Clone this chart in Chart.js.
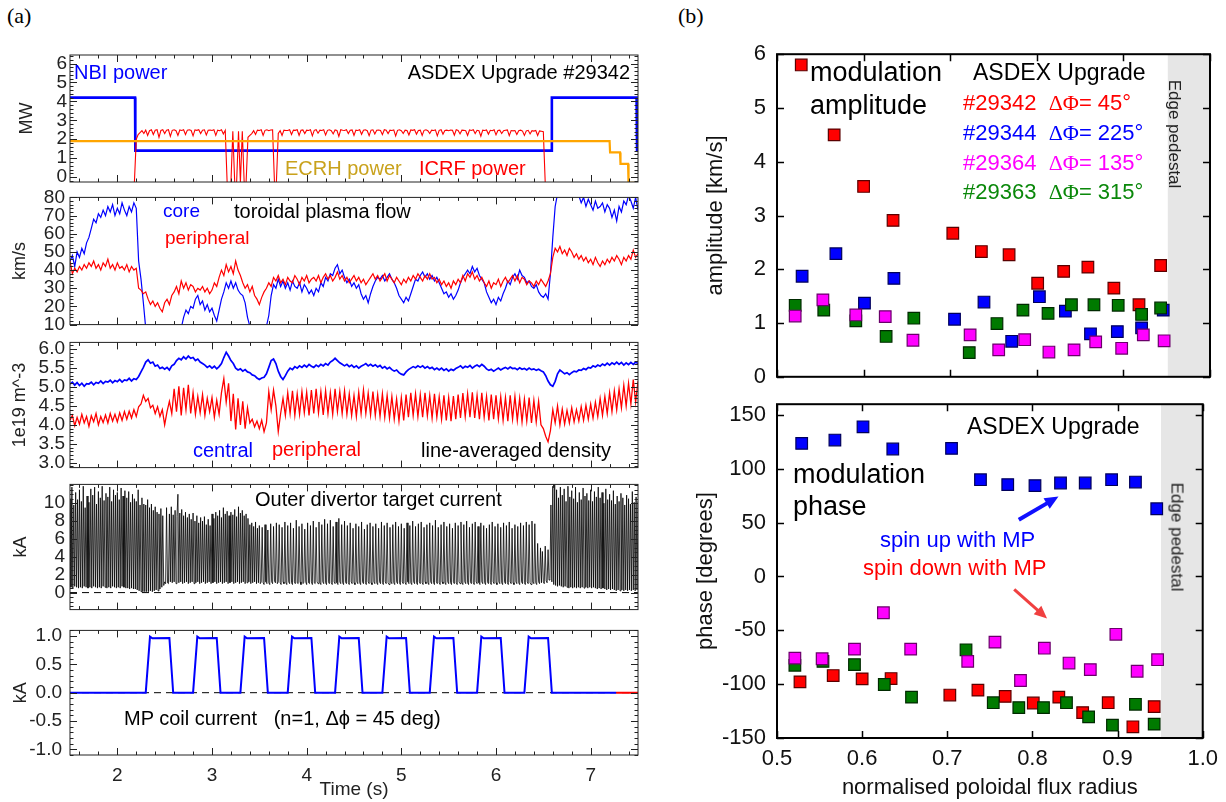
<!DOCTYPE html>
<html><head><meta charset="utf-8">
<script src="https://cdn.jsdelivr.net/npm/chart.js@4.4.1/dist/chart.umd.min.js"></script>
<style>
html,body{margin:0;padding:0;background:#fff;}
#wrap{position:relative;width:1226px;height:802px;overflow:hidden;background:#fff;font-family:'Liberation Sans',Arial,sans-serif;}
canvas{position:absolute;}
.t{position:absolute;white-space:pre;line-height:1;color:#000;}
.rot{transform:translate(-50%,-50%) rotate(90deg);}
.g{font-family:'Liberation Serif','Times New Roman',serif;}
</style></head><body><div id="wrap">
<canvas id="p1" width="650" height="159" style="left:0;top:39px"></canvas>
<canvas id="p2" width="650" height="160" style="left:0;top:181px"></canvas>
<canvas id="p3" width="650" height="158" style="left:0;top:326px"></canvas>
<canvas id="p4" width="650" height="158" style="left:0;top:468px"></canvas>
<canvas id="p5" width="650" height="191" style="left:0;top:611px"></canvas>
<canvas id="r1" width="536" height="371" style="left:690px;top:30px"></canvas>
<canvas id="r2" width="536" height="422" style="left:690px;top:380px"></canvas>

<div class="t g" style="left:7px;top:5px;font-size:22px">(a)</div>
<div class="t g" style="left:678px;top:5px;font-size:22px">(b)</div>
<div class="t" style="left:74px;top:62px;font-size:20px;color:#0000ff">NBI power</div>
<div class="t" style="right:596px;top:62px;font-size:20px">ASDEX Upgrade #29342</div>
<div class="t" style="left:285px;top:158px;font-size:20px;color:#c9a21c">ECRH power</div>
<div class="t" style="left:419px;top:158px;font-size:20px;color:#ff0000">ICRF power</div>
<div class="t" style="left:163px;top:201px;font-size:19px;color:#0000ff">core</div>
<div class="t" style="left:234px;top:201px;font-size:20px">toroidal plasma flow</div>
<div class="t" style="left:165px;top:228px;font-size:19px;color:#ff0000">peripheral</div>
<div class="t" style="left:193px;top:440px;font-size:20px;color:#0000ff">central</div>
<div class="t" style="left:272px;top:439px;font-size:20px;color:#ff0000">peripheral</div>
<div class="t" style="left:421px;top:440px;font-size:20px">line-averaged density</div>
<div class="t" style="left:255px;top:489px;font-size:20px">Outer divertor target current</div>
<div class="t" style="left:124px;top:708px;font-size:20px">MP coil current   (n=1, Δϕ = 45 deg)</div>

<div class="t" style="left:810px;top:59px;font-size:27px">modulation</div>
<div class="t" style="left:810px;top:92px;font-size:27px">amplitude</div>
<div class="t" style="left:973px;top:61px;font-size:23px">ASDEX Upgrade</div>
<div class="t" style="left:963px;top:92px;font-size:22px;color:#ff0000">#29342  <span class="g">ΔΦ</span>= 45°</div>
<div class="t" style="left:963px;top:122px;font-size:22px;color:#0000ff">#29344  <span class="g">ΔΦ</span>= 225°</div>
<div class="t" style="left:963px;top:152px;font-size:22px;color:#ff00ff">#29364  <span class="g">ΔΦ</span>= 135°</div>
<div class="t" style="left:963px;top:181px;font-size:22px;color:#0a880a">#29363  <span class="g">ΔΦ</span>= 315°</div>
<div class="t rot" style="left:1174px;top:134px;font-size:17px;color:#222">Edge pedestal</div>
<div class="t rot" style="left:1177px;top:537px;font-size:17px;color:#222">Edge pedestal</div>
<div class="t" style="left:967px;top:415px;font-size:23px">ASDEX Upgrade</div>
<div class="t" style="left:793px;top:461px;font-size:27px">modulation</div>
<div class="t" style="left:793px;top:493px;font-size:27px">phase</div>
<div class="t" style="left:880px;top:529px;font-size:22px;color:#0000ff">spin up with MP</div>
<div class="t" style="left:863px;top:557px;font-size:22px;color:#ff0000">spin down with MP</div>
</div>
<script>
// ---------------- DATA ----------------
const T0 = 1.5;                 // start of uniformly sampled traces (s)
const timeTicks = [2, 3, 4, 5, 6, 7];

// Panel 1: heating power (MW)
const powerTicks = [0, 1, 2, 3, 4, 5, 6];
const nbiTime  = [1.5, 2.187, 2.19, 6.585, 6.59, 7.485, 7.49, 7.5];
const nbiPower = [4.2, 4.2, 1.4, 1.4, 4.2, 4.2, 1.4, 1.4];
const ecrhTime  = [1.5, 7.2, 7.205, 7.31, 7.315, 7.395, 7.4, 7.5];
const ecrhPower = [1.9, 1.9, 1.3, 1.3, 0.7, 0.7, -0.3, -0.3];
const DT_ICRF = 0.02;
const icrfPower = [
 null,null,null,null,null, null,null,null,null,null, null,null,null,null,null,
 null,null,null,null,null, null,null,null,null,null, null,null,null,null,null,
 null,null,null,null,-0.3,
 2.0,2.25,2.35,2.45,2.3, 2.48,2.2,2.45,2.5,2.25, 2.47,2.5,2.1,2.46,2.5,
 2.3,2.48,2.5,2.15,2.47, 2.5,2.45,2.2,2.49,2.46, 2.5,2.25,2.48,2.5,2.46,
 2.18,2.49,2.47,2.5,2.3, 2.48,2.5,2.22,2.47,2.49, 2.46,2.5,2.2,2.48,2.45,
 2.5,2.28,2.47,-0.3,-0.3, -0.3,2.42,-0.3,-0.3,2.42, -0.3,2.42,-0.3,-0.3,2.1,
 2.2,2.3,2.45,2.25,2.48, 2.46,2.5,2.2,2.47,2.5, 2.45,2.49,2.5,-0.3,-0.3,
 2.3,2.45,2.2,2.48,2.46, 2.46,2.5,2.25,2.48,2.47, 2.5,2.2,2.47,2.49,2.3,
 2.48,2.46,2.5,2.18,2.47, 2.5,2.32,2.48,2.46,2.5, 2.22,2.47,2.5,2.45,2.28,
 2.49,2.46,2.15,2.5,2.47, 2.46,2.5,2.3,2.47,2.49, 2.2,2.48,2.46,2.5,2.26,
 2.47,2.5,2.45,2.19,2.48, 2.5,2.28,2.47,2.49,2.46, 2.24,2.5,2.47,2.3,2.48,
 2.46,2.49,2.17,2.47,2.5, 2.45,2.3,2.48,2.46,2.22, 2.49,2.47,2.5,2.27,2.46,
 2.48,2.2,2.47,2.5,2.45, 2.3,2.48,2.46,2.49,2.18, 2.47,2.5,2.26,2.46,2.48,
 2.45,2.49,2.47,2.21,2.5, 2.46,2.28,2.48,2.47,2.45, 2.2,2.49,2.46,2.5,2.3,
 2.47,2.45,2.16,2.48,2.46, 2.49,2.27,2.47,2.45,2.5, 2.23,2.46,2.48,2.3,2.45,
 2.47,2.49,2.19,2.46,2.44, 2.46,2.25,2.45,2.48,2.43, 2.2,2.44,2.47,2.28,2.45,
 2.43,2.46,2.2,2.44,2.42, 2.4,-0.3,null,null,null,
 null,null,null,null,null, null,null,null,null,null, null,null,null,null,null,
 null,null,null,null,null, null,null,null,null,null, null,null,null,null,null,
 null,null,null,null,null, null,null,null,null,null, null,null,null,null,null,
 null];

// Panel 2: toroidal plasma flow (km/s)
const flowTicks = [10, 20, 30, 40, 50, 60, 70, 80];
const DT_FLOW = 0.025;
const flowCore = [
 45,48,42,50, 47,52,49,55, 58,63,68,66, 71,69,73,70, 75,72,76,70,
 74,71,77,73, 70,75,72,77, 74,45,35,22, 8,4,2,1, 2,0,2,1,
 0,3,2,4, 3,5,6,8, 14,18,16,20, 19,24,26,21, 23,18,21,17,
 19,15,12,18, 24,28,33,30, 34,30,33,29, 27,26,22,14, 9,6,8,5,
 7,4,8,9, 15,26,32,30, 35,31,34,30, 33,29,34,31, 30,33,28,32,
 30,27,29,26, 30,28,33,31, 36,34,38,37, 41,43,38,40, 36,33,35,31,
 33,30,32,27, 24,26,22,27, 31,34,36,35, 37,34,36,38, 35,33,30,26,
 24,22,25,23, 27,31,35,34, 37,39,36,38, 35,37,34,36, 33,30,27,28,
 25,27,24,26, 29,33,36,38, 40,38,42,39, 41,37,35,33, 28,25,22,24,
 21,25,23,27, 30,34,32,36, 38,35,40,37, 36,33,34,31, 30,32,28,26,
 25,27,24,38, 58,75,82,84, 83,85,82,84, 84,82,85,81, 77,80,75,79,
 76,73,78,74, 75,77,72,76, 74,69,73,67, 75,72,78,76, 81,78,74,80,
 73];
const flowPeriph = [
 45,38,41,39, 42,40,43,41, 44,42,45,41, 43,40,44,42, 46,41,43,40,
 44,41,42,40, 43,39,42,40, 41,30,29,27, 28,24,21,23, 20,22,19,17,
 22,24,21,26, 28,31,27,34, 30,33,29,32, 31,28,30,29, 31,28,30,27,
 29,33,31,36, 40,37,43,39, 42,38,45,40, 37,33,30,32, 28,31,26,24,
 21,25,28,30, 33,31,36,34, 37,33,35,32, 36,34,33,37, 35,32,36,34,
 37,33,35,36, 34,37,33,36, 38,35,37,34, 36,39,35,37, 34,36,33,35,
 37,34,36,33, 35,32,34,36, 38,35,37,34, 36,38,34,37, 35,33,36,34,
 32,35,33,36, 34,37,35,38, 36,34,37,35, 38,35,36,33, 35,32,34,31,
 33,30,34,32, 35,33,37,34, 38,36,39,35, 37,34,36,33, 31,34,30,33,
 32,35,31,34, 36,33,35,37, 34,37,33,36, 35,32,34,33, 31,34,32,35,
 33,31,34,38, 47,52,50,53, 49,51,48,52, 50,47,49,46, 48,45,47,44,
 46,43,47,44, 42,45,43,46, 44,47,45,48, 46,43,47,45, 48,46,51,47,
 49];

// Panel 3: line-averaged density (1e19 m^-3)
const densTicks = [3.0, 3.5, 4.0, 4.5, 5.0, 5.5, 6.0];
const DT_DENS = 0.025;
const densCentral = [
 5.08,5.13,5.05,5.12, 5.04,5.10,5.02,5.09, 5.08,5.13,5.06,5.12, 5.10,5.16,5.09,5.15, 5.13,5.18,5.11,5.17,
 5.14,5.20,5.13,5.19, 5.17,5.23,5.16,5.22, 5.20,5.28,5.40,5.52, 5.66,5.72,5.63,5.66, 5.55,5.58,5.49,5.52,
 5.47,5.52,5.45,5.56, 5.60,5.70,5.76,5.72, 5.80,5.74,5.82,5.76, 5.78,5.70,5.74,5.66, 5.62,5.58,5.52,5.56,
 5.50,5.55,5.48,5.54, 5.62,5.78,5.92,5.82, 5.70,5.62,5.50,5.45, 5.48,5.42,5.46,5.40, 5.38,5.32,5.30,5.24,
 5.20,5.24,5.26,5.35, 5.52,5.70,5.74,5.62, 5.42,5.28,5.20,5.30, 5.42,5.50,5.46,5.54, 5.50,5.56,5.52,5.58,
 5.53,5.60,5.55,5.52, 5.58,5.54,5.60,5.56, 5.62,5.58,5.66,5.70, 5.76,5.70,5.64,5.60, 5.56,5.60,5.54,5.58,
 5.52,5.56,5.50,5.55, 5.58,5.62,5.56,5.60, 5.55,5.59,5.53,5.57, 5.50,5.54,5.48,5.52, 5.46,5.42,5.45,5.38,
 5.34,5.32,5.40,5.46, 5.50,5.54,5.51,5.56, 5.52,5.56,5.50,5.54, 5.49,5.52,5.46,5.50, 5.45,5.50,5.44,5.48,
 5.42,5.47,5.44,5.49, 5.52,5.56,5.50,5.55, 5.52,5.57,5.50,5.55, 5.58,5.54,5.60,5.55, 5.48,5.44,5.47,5.42,
 5.46,5.50,5.45,5.49, 5.52,5.48,5.53,5.49, 5.50,5.46,5.51,5.47, 5.49,5.45,5.50,5.46, 5.48,5.44,5.47,5.43,
 5.40,5.30,5.16,5.06, 5.02,5.15,5.35,5.45, 5.40,5.35,5.38,5.33, 5.38,5.42,5.40,5.45, 5.44,5.49,5.46,5.52,
 5.50,5.56,5.53,5.58, 5.55,5.61,5.57,5.63, 5.58,5.64,5.60,5.66, 5.60,5.65,5.58,5.64, 5.59,5.65,5.60,5.66,
 5.62];
const densPeriph = [
 4.12,4.25,3.98,4.20, 4.02,4.28,4.05,4.22, 3.96,4.24,4.08,4.30, 4.00,4.22,4.06,4.26, 4.05,4.30,4.10,4.28,
 4.08,4.32,4.12,4.35, 4.15,4.36,4.18,4.40, 4.22,4.48,4.55,4.78, 4.62,4.70,4.45,4.52, 4.30,4.48,4.22,4.40,
 4.00,4.35,4.62,4.30, 4.95,4.35,5.02,4.25, 4.98,4.40,5.06,4.30, 4.85,4.28,4.75,4.32, 4.80,4.25,4.70,4.35,
 4.72,4.20,4.65,4.28, 4.85,5.22,4.60,5.10, 4.10,4.82,3.88,4.70, 4.00,4.62,3.90,4.45, 4.05,4.15,3.95,4.10,
 3.90,4.12,3.82,4.05, 4.88,4.40,4.92,4.50, 3.82,4.30,4.70,4.25, 4.85,4.30,4.90,4.25, 4.82,4.28,4.88,4.32,
 4.86,4.25,4.92,4.30, 4.95,4.32,4.88,4.26, 4.90,4.30,4.85,4.28, 4.95,4.35,4.88,4.30, 4.90,4.28,4.82,4.25,
 4.78,4.22,4.86,4.30, 4.92,4.30,4.84,4.26, 4.88,4.25,4.80,4.22, 4.82,4.20,4.78,4.18, 4.75,4.15,4.68,4.10,
 4.72,4.12,4.80,4.20, 4.85,4.25,4.82,4.22, 4.80,4.20,4.85,4.24, 4.78,4.18,4.82,4.20, 4.74,4.15,4.78,4.12,
 4.72,4.10,4.76,4.15, 4.80,4.18,4.84,4.22, 4.82,4.20,4.86,4.18, 4.78,4.15,4.85,4.20, 4.75,4.12,4.80,4.15,
 4.78,4.16,4.74,4.12, 4.72,4.10,4.78,4.15, 4.75,4.12,4.70,4.08, 4.68,4.10,4.72,4.05, 4.65,4.08,4.62,4.00,
 3.90,3.70,3.55,3.85, 4.40,4.05,4.50,4.00, 4.42,4.02,4.38,4.05, 4.45,4.08,4.40,4.10, 4.48,4.12,4.52,4.15,
 4.55,4.18,4.60,4.22, 4.70,4.25,4.75,4.30, 4.85,4.35,4.90,4.40, 4.95,4.45,5.05,4.50, 5.10,4.55,5.20,4.60,
 5.15];

// Panel 4: outer divertor target current (kA)
const divTicks = [0, 2, 4, 6, 8, 10];
const DT_DIV = 0.01;
const divCurrent = [
 10.5,0.6,11.8,0.5,9.8,0.7,11.2,0.6,10.4,0.5,
 11.5,0.6,10.2,0.5,11.9,0.7,9.5,0.6,10.8,0.5,
 10.1,0.6,11.6,0.5,10.9,0.7,11.8,0.6,9.9,0.5,
 11.3,0.6,10.6,0.5,11.9,0.7,10.3,0.6,11.1,0.5,
 10.7,0.6,11.8,0.5,10.2,0.7,11.5,0.6,10.9,0.5,
 11.2,0.6,10.4,0.5,11.7,0.7,10.8,0.6,11.4,0.5,
 10.6,0.5,11.3,0.4,10.1,0.5,11.0,0.4,10.5,0.4,
 10.2,0.3,11.5,0.2,9.8,0.1,10.6,0.1,9.9,0.1,
 9.8,0.1,10.4,0.1,9.5,0.2,9.9,0.1,9.2,0.2,
 9.6,0.3,9.0,0.2,8.8,0.4,9.4,0.6,8.6,0.8,
 1.2,1.0,9.5,1.1,1.0,8.8,1.2,9.6,1.1,8.7,
 1.2,9.2,1.0,8.5,11.0,1.1,8.9,1.2,9.3,1.0,
 8.6,1.1,9.0,1.2,8.4,1.0,8.8,1.1,8.2,1.2,
 8.9,1.0,8.0,1.1,8.6,1.2,7.8,1.0,8.4,1.1,
 8.0,1.2,8.5,1.0,7.6,1.1,8.2,1.2,7.5,1.0,
 8.8,1.1,8.3,1.2,9.0,1.0,8.6,1.1,9.2,1.2,
 8.4,1.0,9.5,1.1,8.8,1.2,9.1,1.0,8.6,1.1,
 9.0,1.2,8.7,1.0,9.3,1.1,8.5,1.2,9.6,1.0,
 8.9,1.1,9.2,1.2,8.6,1.0,8.8,1.1,8.3,1.2,
 7.6,1.0,7.8,1.1,7.4,1.2,7.9,1.0,7.2,1.1,
 7.5,1.0,1.2,7.3,1.1,0.9,7.6,1.2,1.0,7.0,
 1.1,0.9,7.7,1.2,1.0,7.4,1.3,1.1,7.8,1.0,
 1.2,7.6,1.1,0.9,7.3,1.2,1.0,7.9,1.1,0.9,
 7.5,1.2,1.0,7.8,1.1,0.9,7.2,1.2,1.0,8.1,
 1.1,1.0,7.4,1.2,0.9,7.7,1.0,1.1,7.1,1.2,
 0.9,7.8,1.1,1.0,7.5,1.2,0.9,8.0,1.1,1.0,
 7.3,1.2,1.0,7.9,1.1,0.9,7.6,1.2,1.0,8.2,
 1.1,0.9,7.7,1.2,1.0,8.1,1.1,0.9,7.4,1.2,
 1.0,7.9,1.1,0.9,8.3,1.2,1.0,7.6,1.1,0.9,
 8.0,1.2,1.0,7.5,1.1,0.9,7.8,1.2,1.0,7.2,
 1.1,0.9,7.7,1.2,1.0,7.4,1.1,0.9,7.9,1.2,
 1.0,7.1,1.1,0.9,7.6,1.2,1.0,7.8,1.1,0.9,
 7.4,1.2,1.0,7.7,1.1,0.9,7.2,1.2,1.0,7.9,
 1.1,0.9,7.5,1.2,1.0,7.8,1.1,0.9,7.3,1.2,
 1.0,7.6,1.1,0.9,7.9,1.2,1.0,7.4,1.1,0.9,
 7.7,1.2,1.0,7.2,1.1,0.9,7.8,1.2,1.0,7.5,
 1.1,0.9,8.0,1.2,1.0,7.4,1.1,0.9,7.7,1.2,
 1.0,7.9,1.1,0.9,7.3,1.2,1.0,7.6,1.1,0.9,
 7.8,1.2,1.0,7.5,1.1,0.9,8.1,1.2,1.0,7.3,
 1.1,0.9,7.6,1.2,1.0,7.9,1.1,0.9,7.4,1.2,
 1.0,7.7,1.1,0.9,7.2,1.2,1.0,7.8,1.1,0.9,
 7.5,1.2,1.0,7.9,1.1,0.9,7.6,1.2,1.0,8.0,
 1.1,0.9,7.3,1.2,1.0,7.7,1.1,0.9,7.9,1.2,
 1.0,7.4,1.1,0.9,7.8,1.2,1.0,7.5,1.1,0.9,
 7.2,1.2,1.0,7.6,1.1,0.9,7.9,1.2,1.0,7.4,
 1.1,0.9,7.7,1.2,1.0,7.3,1.1,0.9,7.8,1.2,
 1.0,7.5,1.1,0.9,7.9,1.2,1.0,7.2,1.1,0.9,
 7.6,1.2,1.0,7.4,1.1,0.9,7.8,1.2,1.0,7.5,
 1.1,0.9,7.9,1.2,1.0,7.6,1.1,0.9,8.0,1.2,
 1.0,7.7,1.1,0.9,5.5,1.2,1.0,5.0,1.1,4.6,
 1.2,1.0,5.2,1.3,1.1,4.8,1.4,1.6,9.8,1.2,
 11.9,0.9,12.2,0.8,11.5,0.7,10.6,0.8,11.8,0.7,
 10.9,0.6,11.6,0.7,10.2,0.6,11.9,0.5,10.7,0.6,
 11.4,0.5,10.5,0.6,11.8,0.5,10.1,0.6,11.2,0.5,
 10.4,0.6,11.7,0.5,10.8,0.6,11.1,0.5,10.3,0.6,
 11.5,0.5,10.2,0.6,11.3,0.5,10.7,0.4,11.8,0.5,
 10.6,0.4,11.2,0.5,10.0,0.4,11.6,0.3,10.4,0.4,
 11.0,0.3,10.3,0.4,11.4,0.3,9.9,0.2,10.8,0.3,
 10.2,0.2,11.1,0.3,10.6,0.2,9.8,0.3,10.9,0.2,
 10.5,0.3,9.9,0.2,11.3,0.3,10.1,0.2,10.7,0.3,
 10.2];

// Panel 5: MP coil current (kA)
const mpTicks = [-1.0, -0.5, 0.0, 0.5, 1.0];
const mpTime = [1.5,
 2.30,2.345,2.37,2.55,2.59, 2.80,2.845,2.87,3.05,3.09, 3.30,3.345,3.37,3.55,3.59,
 3.80,3.845,3.87,4.05,4.09, 4.30,4.345,4.37,4.55,4.59, 4.80,4.845,4.87,5.05,5.09,
 5.30,5.345,5.37,5.55,5.59, 5.80,5.845,5.87,6.05,6.09, 6.30,6.345,6.37,6.55,6.59,
 7.27];
const mpCurrent = [0,
 0,0.99,0.96,0.965,0, 0,0.99,0.96,0.965,0, 0,0.99,0.96,0.965,0,
 0,0.99,0.96,0.965,0, 0,0.99,0.96,0.965,0, 0,0.99,0.96,0.965,0,
 0,0.99,0.96,0.965,0, 0,0.99,0.96,0.965,0, 0,0.99,0.96,0.965,0,
 0];
const mpTailTime = [7.27, 7.5];
const mpTail = [0, 0];

// Right panels: modulation amplitude / phase vs normalised poloidal flux radius
const rhoTicks = [0.5, 0.6, 0.7, 0.8, 0.9, 1.0];
const ampTicks = [0, 1, 2, 3, 4, 5, 6];
const phaseTicks = [-150, -100, -50, 0, 50, 100, 150];
const pedestalRho = [0.951, 1.0];

const rho29342 = [0.528,0.566,0.600,0.634,0.703,0.736,0.768,0.801,0.831,0.859,0.889,0.918,0.943];
const amp29342 = [5.80,4.50,3.54,2.91,2.67,2.33,2.27,1.74,1.96,2.04,1.65,1.34,2.07];
const rho29344 = [0.529,0.568,0.601,0.635,0.705,0.739,0.771,0.803,0.833,0.862,0.893,0.921,0.946];
const amp29344 = [1.87,2.29,1.37,1.83,1.07,1.39,0.66,1.49,1.22,0.80,0.84,0.91,1.24];
const rho29364 = [0.521,0.553,0.591,0.625,0.657,0.723,0.756,0.786,0.814,0.843,0.868,0.898,0.923,0.947];
const amp29364 = [1.13,1.43,1.15,1.12,0.68,0.78,0.50,0.69,0.46,0.50,0.65,0.53,0.78,0.67];
const rho29363 = [0.521,0.554,0.591,0.626,0.658,0.722,0.754,0.784,0.813,0.840,0.866,0.894,0.921,0.943];
const amp29363 = [1.33,1.24,1.04,0.75,1.09,0.45,0.99,1.24,1.18,1.34,1.34,1.33,1.16,1.28];

const prho29344 = [0.529,0.568,0.601,0.636,0.705,0.739,0.771,0.803,0.833,0.862,0.893,0.921,0.946];
const phase29344 = [123.6,126.7,139.0,118.4,119.0,89.9,85.3,84.4,86.8,86.8,89.9,87.7,62.9];
const prho29342 = [0.527,0.566,0.600,0.634,0.703,0.736,0.768,0.801,0.831,0.859,0.889,0.918,0.943];
const phase29342 = [-97.9,-92.0,-95.1,-94.8,-110.1,-105.5,-111.3,-117.5,-112.0,-126.4,-117.2,-139.6,-120.9];
const prho29364 = [0.521,0.553,0.591,0.625,0.657,0.724,0.756,0.786,0.814,0.843,0.868,0.898,0.923,0.947];
const phase29364 = [-75.8,-76.4,-67.5,-33.7,-67.5,-78.8,-61.0,-96.6,-66.6,-80.4,-86.5,-53.7,-88.0,-77.3];
const prho29363 = [0.521,0.554,0.591,0.626,0.658,0.722,0.754,0.784,0.813,0.840,0.866,0.894,0.921,0.943];
const phase29363 = [-82.5,-78.8,-81.9,-100.3,-112.0,-68.1,-117.2,-121.8,-121.8,-117.2,-130.4,-138.0,-118.7,-137.1];

// annotation arrows (rho, phase): [fromX, fromY, toX, toY]
const spinUpArrow = [0.784, 52.7, 0.8306, 74.2];
const spinDownArrow = [0.7786, -11.9, 0.8172, -39.0];

// ---------------- helpers ----------------
const uniform = (t0, dt, vals) => vals.map((v, i) => ({x: +(t0 + i * dt).toFixed(4), y: v}));
const zip = (xs, ys) => xs.map((x, i) => ({x, y: ys[i]}));
const FONT = "'Liberation Sans', Arial, sans-serif";
Chart.defaults.font.family = FONT;
Chart.defaults.color = '#111';

function minorVals(min, max, step, majors) {
  const out = [];
  if (!step) return out;
  for (let k = Math.ceil(min / step - 1e-9); k * step <= max + 1e-9; k++) {
    const v = +(k * step).toFixed(6);
    if (!majors.some(m => Math.abs(m - v) < step * 0.01)) out.push(v);
  }
  return out;
}

const framePlugin = {
  id: 'frame',
  afterDraw(chart, args, o) {
    const {ctx, chartArea: a} = chart;
    const xs = chart.scales.x, ys = chart.scales.y;
    ctx.save();
    ctx.strokeStyle = o.color || '#000';
    ctx.lineWidth = o.tickLw || 1;
    ctx.beginPath();
    const xSets = [[o.xMajor, o.major], [minorVals(xs.min, xs.max, o.xMinor, o.xMajor), o.minor]];
    xSets.forEach(([vals, len]) => vals.forEach(v => {
      const p = Math.round(xs.getPixelForValue(v)) + 0.5;
      ctx.moveTo(p, a.bottom); ctx.lineTo(p, a.bottom - len);
      ctx.moveTo(p, a.top); ctx.lineTo(p, a.top + len);
    }));
    const ySets = [[o.yMajor, o.major], [minorVals(ys.min, ys.max, o.yMinor, o.yMajor), o.minor]];
    ySets.forEach(([vals, len]) => vals.forEach(v => {
      if (v < ys.min || v > ys.max) return;
      const p = Math.round(ys.getPixelForValue(v)) + 0.5;
      ctx.moveTo(a.left, p); ctx.lineTo(a.left + len, p);
      ctx.moveTo(a.right, p); ctx.lineTo(a.right - len, p);
    }));
    ctx.stroke();
    ctx.lineWidth = o.frameLw || 1;
    ctx.strokeRect(a.left, a.top, a.right - a.left, a.bottom - a.top);
    ctx.restore();
  }
};

const arrowPlugin = {
  id: 'arrows',
  afterDatasetsDraw(chart, args, o) {
    const {ctx} = chart;
    const xs = chart.scales.x, ys = chart.scales.y;
    (o.list || []).forEach(ar => {
      const [fx, fy, tx, ty] = ar.pts;
      const x1 = xs.getPixelForValue(fx), y1 = ys.getPixelForValue(fy);
      const x2 = xs.getPixelForValue(tx), y2 = ys.getPixelForValue(ty);
      const ang = Math.atan2(y2 - y1, x2 - x1), h = ar.head;
      ctx.save();
      ctx.strokeStyle = ar.color; ctx.fillStyle = ar.color; ctx.lineWidth = ar.lw;
      ctx.beginPath(); ctx.moveTo(x1, y1);
      ctx.lineTo(x2 - h * 0.8 * Math.cos(ang), y2 - h * 0.8 * Math.sin(ang)); ctx.stroke();
      ctx.beginPath(); ctx.moveTo(x2, y2);
      ctx.lineTo(x2 - h * Math.cos(ang - 0.42), y2 - h * Math.sin(ang - 0.42));
      ctx.lineTo(x2 - h * Math.cos(ang + 0.42), y2 - h * Math.sin(ang + 0.42));
      ctx.closePath(); ctx.fill();
      ctx.restore();
    });
  }
};

function line(data, color, width, extra) {
  return Object.assign({data, borderColor: color, backgroundColor: color, borderWidth: width,
    pointRadius: 0, fill: false, tension: 0, spanGaps: false}, extra || {});
}

function leftChart(id, c) {
  const bottom = !!c.bottomAxis;
  return new Chart(document.getElementById(id), {
    type: 'line',
    data: {datasets: c.datasets},
    options: {
      responsive: false, animation: false, events: [],
      layout: {padding: {top: 16, right: 12, bottom: bottom ? 0 : 16, left: 0}},
      plugins: {legend: {display: false}, tooltip: {enabled: false},
        frame: {xMajor: timeTicks, xMinor: 0.2, yMajor: c.ticks, yMinor: c.minor,
                major: 7, minor: 3.5, color: '#222', frameLw: 1}},
      scales: {
        x: {type: 'linear', min: 1.5, max: 7.5, display: bottom,
            afterBuildTicks: s => { s.ticks = timeTicks.map(v => ({value: v})); },
            afterFit: s => { if (bottom) s.height = 47; },
            grid: {display: false, drawTicks: false}, border: {display: false},
            ticks: {font: {size: 19}, color: '#222', padding: 9, maxRotation: 0, autoSkip: false,
                    callback: v => String(v)},
            title: {display: true, text: 'Time (s)', font: {size: 19}, color: '#222',
                    padding: {top: 0, bottom: 1}}},
        y: {type: 'linear', min: c.min, max: c.max,
            afterBuildTicks: s => { s.ticks = c.ticks.map(v => ({value: v})); },
            afterFit: s => { s.width = 70; },
            grid: {display: false, drawTicks: false}, border: {display: false},
            ticks: {font: {size: 19}, color: '#222', padding: c.tickPad, autoSkip: false, callback: c.fmt},
            title: {display: true, text: c.title, font: {size: 18}, color: '#222',
                    padding: {top: c.titlePad, bottom: 0}}}
      }
    },
    plugins: [framePlugin]
  });
}

const zeroLine = (x0, x1) => [{x: x0, y: 0}, {x: x1, y: 0}];

leftChart('p1', {
  min: -0.26, max: 6.45, ticks: powerTicks, minor: 0.2, title: 'MW', titlePad: 16, tickPad: 3,
  fmt: v => String(v),
  datasets: [
    line(zip(ecrhTime, ecrhPower), '#ffa500', 2.2),
    line(uniform(T0, DT_ICRF, icrfPower), '#ff0000', 1.1),
    line(zip(nbiTime, nbiPower), '#0000ff', 2.6)
  ]
});
leftChart('p2', {
  min: 10, max: 80, ticks: flowTicks, minor: 2, title: 'km/s', titlePad: 9, tickPad: 5,
  fmt: v => String(v),
  datasets: [
    line(uniform(T0, DT_FLOW, flowPeriph), '#ff0000', 1.2),
    line(uniform(T0, DT_FLOW, flowCore), '#0000ff', 1.2)
  ]
});
leftChart('p3', {
  min: 2.87, max: 6.18, ticks: densTicks, minor: 0.1, title: '1e19 m^-3', titlePad: 9, tickPad: 5,
  fmt: v => v.toFixed(1),
  datasets: [
    line(uniform(T0, DT_DENS, densCentral), '#0000ff', 1.7),
    line(uniform(T0, DT_DENS, densPeriph), '#ff0000', 1.3)
  ]
});
leftChart('p4', {
  min: -1.9, max: 12.1, ticks: divTicks, minor: 0.5, title: 'kA', titlePad: 10, tickPad: 5,
  fmt: v => String(v),
  datasets: [
    line(uniform(T0, DT_DIV, divCurrent), '#000000', 0.8),
    line(zeroLine(1.5, 7.5), '#000000', 1, {borderDash: [7, 5]})
  ]
});
leftChart('p5', {
  bottomAxis: true,
  min: -1.1, max: 1.1, ticks: mpTicks, minor: 0.1, title: 'kA', titlePad: 10, tickPad: 8,
  fmt: v => v.toFixed(1),
  datasets: [
    line(zip(mpTailTime, mpTail), '#ff0000', 2),
    line(zip(mpTime, mpCurrent), '#0000ff', 2),
    line(zeroLine(1.5, 7.5), '#000000', 1, {borderDash: [7, 5]})
  ]
});

function pts(xs, ys, fill, edge) {
  return {data: zip(xs, ys), showLine: false, pointStyle: 'rect', pointRadius: 8.2,
          backgroundColor: fill, borderColor: edge, borderWidth: 1.2};
}
function pedestal(ymax) {
  return {data: pedestalRho.map(x => ({x, y: ymax})), showLine: true, borderWidth: 0,
          borderColor: 'rgba(0,0,0,0)', backgroundColor: '#e6e6e6', fill: 'start', pointRadius: 0};
}

function rightChart(id, c) {
  const bottom = !!c.bottomAxis;
  return new Chart(document.getElementById(id), {
    type: 'line',
    data: {datasets: c.datasets},
    options: {
      responsive: false, animation: false, events: [],
      layout: {padding: {top: c.padTop, right: 16, bottom: bottom ? 0 : 14, left: 0}},
      plugins: {legend: {display: false}, tooltip: {enabled: false},
        frame: {xMajor: rhoTicks, xMinor: 0, yMajor: c.ticks, yMinor: 0,
                major: 7, minor: 0, color: '#000', frameLw: 2, tickLw: 1.5},
        arrows: {list: c.arrows || []}},
      scales: {
        x: {type: 'linear', min: 0.5, max: 1.0, display: bottom,
            afterBuildTicks: s => { s.ticks = rhoTicks.map(v => ({value: v})); },
            afterFit: s => { if (bottom) s.height = 64; },
            grid: {display: false, drawTicks: false}, border: {display: false},
            ticks: {font: {size: 22}, color: '#111', padding: 8, maxRotation: 0, autoSkip: false,
                    callback: v => v.toFixed(1)},
            title: {display: true, text: 'normalised poloidal flux radius', font: {size: 22},
                    color: '#111', padding: {top: 0, bottom: 1}}},
        y: {type: 'linear', min: c.min, max: c.max,
            afterBuildTicks: s => { s.ticks = c.ticks.map(v => ({value: v})); },
            afterFit: s => { s.width = 87; },
            grid: {display: false, drawTicks: false}, border: {display: false},
            ticks: {font: {size: 22}, color: '#111', padding: 11, autoSkip: false, callback: v => String(v)},
            title: {display: true, text: c.title, font: {size: 22}, color: '#111',
                    padding: {top: c.titlePad, bottom: 0}}}
      }
    },
    plugins: [framePlugin, arrowPlugin]
  });
}

rightChart('r1', {
  min: 0, max: 6, ticks: ampTicks, title: 'amplitude [km/s]', titlePad: 13, padTop: 21,
  datasets: [
    pts(rho29364, amp29364, '#ff00ff', '#6a006a'),
    pts(rho29363, amp29363, '#007a00', '#002a00'),
    pts(rho29344, amp29344, '#0000ff', '#00005a'),
    pts(rho29342, amp29342, '#ff0000', '#5a0000'),
    pedestal(6)
  ]
});
rightChart('r2', {
  bottomAxis: true,
  min: -150, max: 160, ticks: phaseTicks, title: 'phase [degrees]', titlePad: 3, padTop: 22,
  arrows: [
    {pts: spinUpArrow, color: '#1010ff', lw: 4, head: 15},
    {pts: spinDownArrow, color: '#f04040', lw: 3, head: 14}
  ],
  datasets: [
    pts(prho29364, phase29364, '#ff00ff', '#6a006a'),
    pts(prho29363, phase29363, '#007a00', '#002a00'),
    pts(prho29342, phase29342, '#ff0000', '#5a0000'),
    pts(prho29344, phase29344, '#0000ff', '#00005a'),
    pedestal(160)
  ]
});
</script>
</body></html>
